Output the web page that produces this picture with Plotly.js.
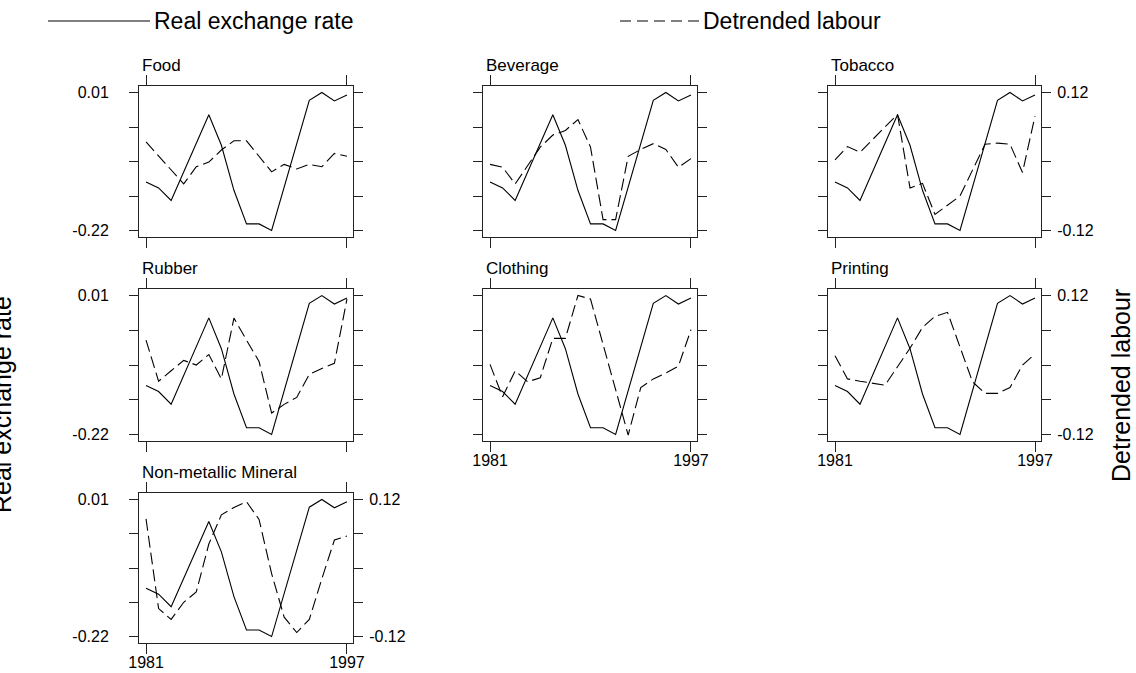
<!DOCTYPE html>
<html>
<head>
<meta charset="utf-8">
<script src="https://cdn.plot.ly/plotly-3.0.1.min.js"></script>
<style>
  html, body { margin: 0; padding: 0; background: #fff; }
  #chart { width: 1136px; height: 673px; }
</style>
</head>
<body>
<div id="chart"></div>
<script>
// ---------- data ----------
const years = [1981, 1982, 1983, 1984, 1985, 1986, 1987, 1988, 1989, 1990, 1991, 1992, 1993, 1994, 1995, 1996, 1997];
const industries = ["Food", "Beverage", "Tobacco", "Rubber", "Clothing", "Printing", "Non-metallic Mineral"];
const realExchangeRate = [-0.139, -0.149, -0.170, -0.122, -0.074, -0.027, -0.078, -0.153, -0.209, -0.209, -0.220, -0.147, -0.074, -0.003, 0.010, -0.004, 0.006];
const labourFood      = [0.034, 0.010, -0.015, -0.039, -0.009, -0.001, 0.020, 0.036, 0.036, 0.009, -0.018, -0.005, -0.013, -0.005, -0.009, 0.014, 0.009];
const labourBeverage  = [-0.005, -0.010, -0.039, -0.007, 0.025, 0.046, 0.054, 0.073, 0.025, -0.101, -0.101, 0.009, 0.021, 0.031, 0.021, -0.010, 0.005];
const labourTobacco   = [0.003, 0.026, 0.016, 0.038, 0.060, 0.082, -0.046, -0.038, -0.092, -0.076, -0.060, -0.015, 0.030, 0.032, 0.030, -0.019, 0.079];
const labourRubber    = [0.043, -0.028, -0.010, 0.008, 0.000, 0.018, -0.024, 0.081, 0.043, 0.006, -0.083, -0.068, -0.056, -0.016, -0.006, 0.003, 0.114];
const labourClothing  = [0.001, -0.055, -0.010, -0.029, -0.022, 0.046, 0.046, 0.120, 0.114, 0.036, -0.042, -0.121, -0.039, -0.024, -0.014, -0.002, 0.061];
const labourPrinting  = [0.016, -0.024, -0.028, -0.031, -0.035, -0.003, 0.029, 0.065, 0.084, 0.091, 0.032, -0.029, -0.049, -0.049, -0.039, 0.000, 0.019];
const labourNonMetal  = [0.086, -0.071, -0.090, -0.060, -0.042, 0.042, 0.093, 0.106, 0.116, 0.085, -0.010, -0.086, -0.113, -0.090, -0.019, 0.049, 0.056];
const labourSeries = [labourFood, labourBeverage, labourTobacco, labourRubber, labourClothing, labourPrinting, labourNonMetal];
const leftTicks = [0.01, -0.0475, -0.105, -0.1625, -0.22];
const leftTickText = ["0.01", "", "", "", "-0.22"];
const rightTicks = [0.12, 0.06, 0, -0.06, -0.12];
const rightTickText = ["0.12", "", "", "", "-0.12"];
const xTicks = [1981, 1997];
const xTickText = ["1981", "1997"];
const legendNames = ["Real exchange rate", "Detrended labour"];

// ---------- layout geometry (pixels) ----------
const W = 1136, H = 673;
const colPx = [[139, 353], [483, 697], [828, 1041]];
const rowPx = [[86, 237], [289, 441], [493, 643]];
// panel placement: [col, row, showLeft, showRight, showX]
const panels = [
  [0, 0, true, false, false],
  [1, 0, false, false, false],
  [2, 0, false, true, false],
  [0, 1, true, false, false],
  [1, 1, false, false, true],
  [2, 1, false, true, true],
  [0, 2, true, true, true]
];

const FONT = "Liberation Sans, Arial, Helvetica, sans-serif";
const INK = "#000";
const FRAME = "#222";
const px2x = p => p / W;
const px2y = p => 1 - p / H;

const leftRange = [-0.22 - 6.5 / 600, 0.01 + 6.5 / 600];
const span = leftRange[1] - leftRange[0];
const rSpan = 0.24 * span / 0.23;
const rPad = (rSpan - 0.24) / 2;
const rightRange = [-0.12 - rPad, 0.12 + rPad];
const xRange = [1980.44, 1997.48];

const traces = [];
const layout = {
  width: W, height: H,
  margin: {l: 0, r: 0, t: 0, b: 0},
  paper_bgcolor: "#fff", plot_bgcolor: "#fff",
  showlegend: false,
  font: {family: FONT, color: INK, size: 16},
  annotations: [],
  shapes: []
};

panels.forEach((p, i) => {
  const [c, r, showL, showR, showX] = p;
  const n = i + 1;
  const xa = "x" + n, ya = "y" + n, yb = "y" + (n + 7);
  const xk = "xaxis" + n, yk = "yaxis" + n, ybk = "yaxis" + (n + 7);
  const xd = [px2x(colPx[c][0]), px2x(colPx[c][1])];
  const yd = [px2y(rowPx[r][1]), px2y(rowPx[r][0])];

  traces.push({
    x: years, y: realExchangeRate, xaxis: xa, yaxis: ya,
    type: "scatter", mode: "lines", name: legendNames[0],
    line: {color: INK, width: 1.1}, hoverinfo: "skip"
  });
  traces.push({
    x: years, y: labourSeries[i], xaxis: xa, yaxis: yb,
    type: "scatter", mode: "lines", name: legendNames[1],
    line: {color: INK, width: 1.1, dash: "12px,5px"}, hoverinfo: "skip"
  });

  layout[xk] = {
    domain: xd, anchor: ya, range: xRange, fixedrange: true,
    showgrid: false, zeroline: false,
    showline: true, linecolor: FRAME, linewidth: 1, mirror: "allticks",
    ticks: "outside", ticklen: 10, tickwidth: 1, tickcolor: FRAME,
    tickmode: "array", tickvals: xTicks, ticktext: xTickText,
    showticklabels: showX, ticklabelstandoff: -5,
    tickfont: {size: 16, family: FONT, color: INK}
  };
  layout[yk] = {
    domain: yd, anchor: xa, range: leftRange, fixedrange: true,
    showgrid: false, zeroline: false,
    showline: true, linecolor: FRAME, linewidth: 1, mirror: true,
    ticks: "outside", ticklen: 9, tickwidth: 1, tickcolor: FRAME,
    tickmode: "array", tickvals: leftTicks, ticktext: leftTickText,
    showticklabels: showL, ticklabelstandoff: 17,
    tickfont: {size: 16, family: FONT, color: INK}
  };
  layout[ybk] = {
    overlaying: ya, anchor: xa, side: "right", range: rightRange, fixedrange: true,
    showgrid: false, zeroline: false, showline: false,
    ticks: "outside", ticklen: 9, tickwidth: 1, tickcolor: FRAME,
    tickmode: "array", tickvals: rightTicks, ticktext: rightTickText,
    showticklabels: showR, ticklabelstandoff: 3,
    tickfont: {size: 16, family: FONT, color: INK}
  };

  layout.annotations.push({
    text: industries[i], xref: "paper", yref: "paper",
    x: px2x(colPx[c][0] + 1), y: px2y(rowPx[r][0] - 9),
    xanchor: "left", yanchor: "bottom", showarrow: false,
    font: {size: 17, family: FONT, color: INK}
  });
});

// legend (drawn as decoration at top)
layout.shapes.push({type: "line", xref: "paper", yref: "paper",
  x0: px2x(48), x1: px2x(150), y0: px2y(21), y1: px2y(21),
  line: {color: INK, width: 1.2}});
layout.shapes.push({type: "line", xref: "paper", yref: "paper",
  x0: px2x(620), x1: px2x(700), y0: px2y(21), y1: px2y(21),
  line: {color: INK, width: 1.2, dash: "11px,6px"}});
layout.annotations.push({text: legendNames[0], xref: "paper", yref: "paper",
  x: px2x(152), y: px2y(21), xanchor: "left", yanchor: "middle", showarrow: false,
  font: {size: 23, family: FONT, color: INK}});
layout.annotations.push({text: legendNames[1], xref: "paper", yref: "paper",
  x: px2x(701), y: px2y(21), xanchor: "left", yanchor: "middle", showarrow: false,
  font: {size: 23, family: FONT, color: INK}});

// axis titles
layout.annotations.push({text: "Real exchange rate", xref: "paper", yref: "paper",
  x: px2x(2), y: px2y(405), xanchor: "center", yanchor: "middle", textangle: -90,
  showarrow: false, font: {size: 25, family: FONT, color: INK}});
layout.annotations.push({text: "Detrended labour", xref: "paper", yref: "paper",
  x: px2x(1121), y: px2y(386), xanchor: "center", yanchor: "middle", textangle: -90,
  showarrow: false, font: {size: 25, family: FONT, color: INK}});

Plotly.newPlot("chart", traces, layout, {displayModeBar: false, staticPlot: true});
</script>
</body>
</html>
